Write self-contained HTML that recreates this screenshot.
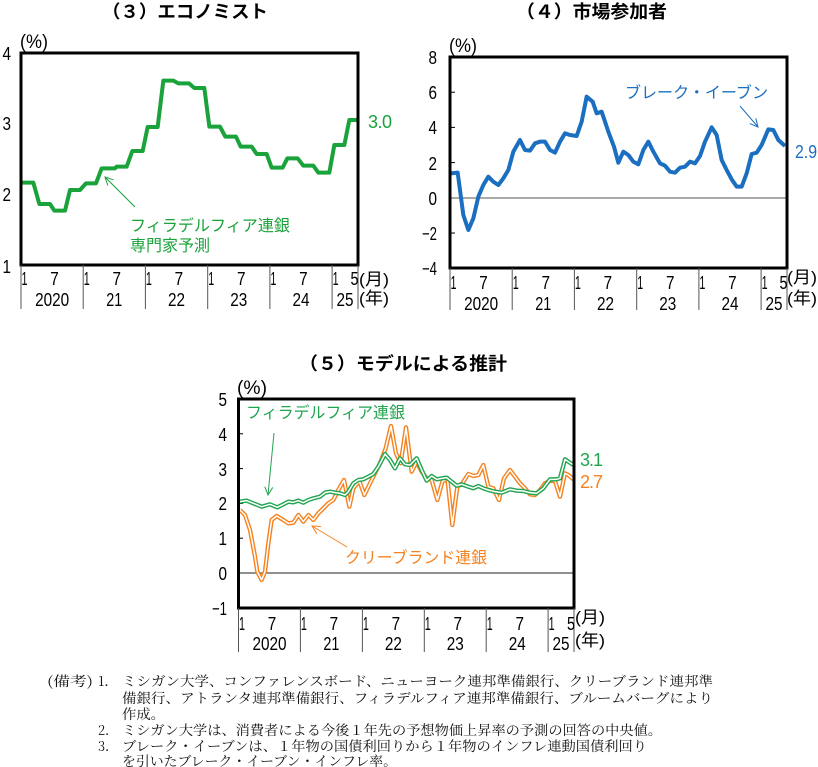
<!DOCTYPE html>
<html><head><meta charset="utf-8">
<style>
html,body{margin:0;padding:0;background:#fff;}
svg{display:block;}
.n{font-family:"Liberation Sans",sans-serif;font-size:18.5px;fill:#000;}
.jp{font-family:"Liberation Sans","Noto Sans CJK JP",sans-serif;}
.t{font-family:"Liberation Sans","Noto Sans CJK JP",sans-serif;font-size:18px;font-weight:bold;fill:#000;}
.nt{font-family:"Noto Serif CJK SC",serif;font-size:13.5px;fill:#111;}
.v{font-family:"Liberation Sans",sans-serif;font-size:18px;}
</style></head>
<body>
<svg width="818" height="767" viewBox="0 0 818 767" xmlns="http://www.w3.org/2000/svg">
<defs>
<marker id="ag" markerUnits="userSpaceOnUse" markerWidth="12" markerHeight="12" refX="0" refY="0" orient="auto" viewBox="-10 -6 12 12"><path d="M-8,-4 L0,0 L-8,4" fill="none" stroke="#1aa33a" stroke-width="1"/></marker>
<marker id="ab" markerUnits="userSpaceOnUse" markerWidth="12" markerHeight="12" refX="0" refY="0" orient="auto" viewBox="-10 -6 12 12"><path d="M-8,-4 L0,0 L-8,4" fill="none" stroke="#1a6fc0" stroke-width="1"/></marker>
<marker id="ag2" markerUnits="userSpaceOnUse" markerWidth="12" markerHeight="12" refX="0" refY="0" orient="auto" viewBox="-10 -6 12 12"><path d="M-8,-4 L0,0 L-8,4" fill="none" stroke="#22a550" stroke-width="1"/></marker>
<marker id="ao" markerUnits="userSpaceOnUse" markerWidth="12" markerHeight="12" refX="0" refY="0" orient="auto" viewBox="-10 -6 12 12"><path d="M-8,-4 L0,0 L-8,4" fill="none" stroke="#f5821f" stroke-width="1"/></marker>
</defs>
<rect width="818" height="767" fill="#fff"/>

<!-- ================= Chart 3 ================= -->
<text class="t" x="102" y="18" textLength="166" lengthAdjust="spacingAndGlyphs">（３）エコノミスト</text>
<text class="jp" x="20" y="48" font-size="19" textLength="28" lengthAdjust="spacingAndGlyphs">(%)</text>
<g class="n" text-anchor="end">
<text x="11" y="60" textLength="8.5" lengthAdjust="spacingAndGlyphs">4</text><text x="11" y="130" textLength="8.5" lengthAdjust="spacingAndGlyphs">3</text><text x="11" y="201" textLength="8.5" lengthAdjust="spacingAndGlyphs">2</text><text x="11" y="273" textLength="8.5" lengthAdjust="spacingAndGlyphs">1</text>
</g>
<g transform="translate(0,0) scale(0.33333)">
<polyline fill="none" stroke="#1aa33a" stroke-width="12" stroke-linejoin="round" points="63,548 100,548 118,612 150,612 163,632 195,632 210,570 240,570 258,550 288,550 305,505 345,505 350,500 380,500 397,453 428,453 443,381 473,381 490,242 520,242 535,250 567,250 583,264 613,264 628,380 660,380 676,410 708,410 722,440 755,440 770,462 800,462 815,503 848,503 862,475 893,475 910,497 940,497 955,518 988,518 1003,435 1033,435 1048,360 1070,360"/>
</g>
<rect x="21" y="53" width="337" height="212" fill="none" stroke="#000" stroke-width="3"/>
<line x1="135" y1="207" x2="105" y2="177" stroke="#1aa33a" stroke-width="1" marker-end="url(#ag)"/>
<text class="jp" x="130" y="231" font-size="16" fill="#1aa33a" textLength="160" lengthAdjust="spacingAndGlyphs">フィラデルフィア連銀</text>
<text class="jp" x="130" y="251" font-size="16" fill="#1aa33a" textLength="80" lengthAdjust="spacingAndGlyphs">専門家予測</text>
<text class="v" x="368" y="128" fill="#1aa33a" textLength="24" lengthAdjust="spacing">3.0</text>
<g stroke="#555" stroke-width="1">
<line x1="21" y1="265" x2="21" y2="309"/><line x1="83.2" y1="265" x2="83.2" y2="309"/><line x1="145.4" y1="265" x2="145.4" y2="309"/><line x1="207.7" y1="265" x2="207.7" y2="309"/><line x1="269.9" y1="265" x2="269.9" y2="309"/><line x1="332.1" y1="265" x2="332.1" y2="309"/><line x1="358" y1="265" x2="358" y2="309"/>
</g>
<g class="n" text-anchor="middle">
<text x="24.5" y="285" textLength="6" lengthAdjust="spacingAndGlyphs">1</text><text x="54.5" y="285" textLength="8.5" lengthAdjust="spacingAndGlyphs">7</text>
<text x="86.7" y="285" textLength="6" lengthAdjust="spacingAndGlyphs">1</text><text x="116.7" y="285" textLength="8.5" lengthAdjust="spacingAndGlyphs">7</text>
<text x="148.9" y="285" textLength="6" lengthAdjust="spacingAndGlyphs">1</text><text x="178.9" y="285" textLength="8.5" lengthAdjust="spacingAndGlyphs">7</text>
<text x="211.2" y="285" textLength="6" lengthAdjust="spacingAndGlyphs">1</text><text x="241.2" y="285" textLength="8.5" lengthAdjust="spacingAndGlyphs">7</text>
<text x="273.4" y="285" textLength="6" lengthAdjust="spacingAndGlyphs">1</text><text x="303.4" y="285" textLength="8.5" lengthAdjust="spacingAndGlyphs">7</text>
<text x="335.6" y="285" textLength="6" lengthAdjust="spacingAndGlyphs">1</text><text x="354.5" y="285" textLength="8" lengthAdjust="spacingAndGlyphs">5</text>
<text x="52.1" y="306" textLength="34" lengthAdjust="spacingAndGlyphs">2020</text><text x="114.3" y="306" textLength="16" lengthAdjust="spacingAndGlyphs">21</text><text x="176.5" y="306" textLength="17" lengthAdjust="spacingAndGlyphs">22</text><text x="238.8" y="306" textLength="17" lengthAdjust="spacingAndGlyphs">23</text><text x="301" y="306" textLength="17" lengthAdjust="spacingAndGlyphs">24</text><text x="345" y="306" textLength="17" lengthAdjust="spacingAndGlyphs">25</text>
</g>
<text class="jp" x="359" y="285" font-size="17" textLength="30" lengthAdjust="spacingAndGlyphs">(月)</text>
<text class="jp" x="359" y="304" font-size="17" textLength="30" lengthAdjust="spacingAndGlyphs">(年)</text>

<!-- ================= Chart 4 ================= -->
<text class="t" x="516" y="18" textLength="151" lengthAdjust="spacingAndGlyphs">（４）市場参加者</text>
<text class="jp" x="449" y="52" font-size="19" textLength="28" lengthAdjust="spacingAndGlyphs">(%)</text>
<g class="n" text-anchor="end">
<text x="437" y="64" textLength="8.5" lengthAdjust="spacingAndGlyphs">8</text><text x="437" y="99" textLength="8.5" lengthAdjust="spacingAndGlyphs">6</text><text x="437" y="134" textLength="8.5" lengthAdjust="spacingAndGlyphs">4</text><text x="437" y="170" textLength="8.5" lengthAdjust="spacingAndGlyphs">2</text><text x="437" y="205" textLength="8.5" lengthAdjust="spacingAndGlyphs">0</text><text x="437" y="240" textLength="15" lengthAdjust="spacingAndGlyphs">−2</text><text x="437" y="275" textLength="15" lengthAdjust="spacingAndGlyphs">−4</text>
</g>
<line x1="450" y1="198" x2="787" y2="198" stroke="#555" stroke-width="1"/>
<g stroke="#000" stroke-width="1">
<line x1="450" y1="92.2" x2="455" y2="92.2"/><line x1="450" y1="127.4" x2="455" y2="127.4"/><line x1="450" y1="162.6" x2="455" y2="162.6"/><line x1="450" y1="233" x2="455" y2="233"/>
</g>
<g transform="translate(410,0) scale(0.33333)">
<polyline fill="none" stroke="#1a6fc0" stroke-width="12" stroke-linejoin="round" points="122,520 143,518 160,645 175,690 190,655 205,590 220,555 235,530 250,545 265,555 280,535 295,510 310,455 330,420 345,450 360,452 375,430 390,425 405,425 420,450 435,458 450,425 465,400 480,405 500,408 515,365 530,290 548,305 560,340 575,335 595,395 612,440 625,488 640,455 655,465 670,485 685,493 700,450 715,425 730,455 750,490 765,497 780,515 795,518 810,503 825,500 840,485 855,490 870,468 885,425 905,382 920,405 935,480 950,510 965,538 980,560 995,560 1010,520 1025,462 1040,458 1055,435 1075,388 1090,390 1105,420 1125,438"/>
</g>
<rect x="450" y="57" width="337" height="211" fill="none" stroke="#000" stroke-width="3"/>
<text class="jp" x="625" y="98" font-size="16" fill="#1a6fc0" textLength="143" lengthAdjust="spacingAndGlyphs">ブレーク・イーブン</text>
<line x1="740" y1="106" x2="758" y2="127" stroke="#1a6fc0" stroke-width="1" marker-end="url(#ab)"/>
<text class="v" x="795" y="158" fill="#1a6fc0" textLength="22" lengthAdjust="spacingAndGlyphs">2.9</text>
<g stroke="#555" stroke-width="1">
<line x1="450" y1="268" x2="450" y2="310"/><line x1="512.2" y1="268" x2="512.2" y2="310"/><line x1="574.4" y1="268" x2="574.4" y2="310"/><line x1="636.7" y1="268" x2="636.7" y2="310"/><line x1="698.9" y1="268" x2="698.9" y2="310"/><line x1="761.1" y1="268" x2="761.1" y2="310"/><line x1="787" y1="268" x2="787" y2="310"/>
</g>
<g class="n" text-anchor="middle">
<text x="453.5" y="289" textLength="6" lengthAdjust="spacingAndGlyphs">1</text><text x="483.5" y="289" textLength="8.5" lengthAdjust="spacingAndGlyphs">7</text>
<text x="515.7" y="289" textLength="6" lengthAdjust="spacingAndGlyphs">1</text><text x="545.7" y="289" textLength="8.5" lengthAdjust="spacingAndGlyphs">7</text>
<text x="577.9" y="289" textLength="6" lengthAdjust="spacingAndGlyphs">1</text><text x="607.9" y="289" textLength="8.5" lengthAdjust="spacingAndGlyphs">7</text>
<text x="640.2" y="289" textLength="6" lengthAdjust="spacingAndGlyphs">1</text><text x="670.2" y="289" textLength="8.5" lengthAdjust="spacingAndGlyphs">7</text>
<text x="702.4" y="289" textLength="6" lengthAdjust="spacingAndGlyphs">1</text><text x="732.4" y="289" textLength="8.5" lengthAdjust="spacingAndGlyphs">7</text>
<text x="764.6" y="289" textLength="6" lengthAdjust="spacingAndGlyphs">1</text><text x="783.5" y="289" textLength="8" lengthAdjust="spacingAndGlyphs">5</text>
<text x="481.1" y="310" textLength="34" lengthAdjust="spacingAndGlyphs">2020</text><text x="543.3" y="310" textLength="16" lengthAdjust="spacingAndGlyphs">21</text><text x="605.5" y="310" textLength="17" lengthAdjust="spacingAndGlyphs">22</text><text x="667.8" y="310" textLength="17" lengthAdjust="spacingAndGlyphs">23</text><text x="730" y="310" textLength="17" lengthAdjust="spacingAndGlyphs">24</text><text x="774" y="310" textLength="17" lengthAdjust="spacingAndGlyphs">25</text>
</g>
<text class="jp" x="787" y="283" font-size="17" textLength="30" lengthAdjust="spacingAndGlyphs">(月)</text>
<text class="jp" x="787" y="304" font-size="17" textLength="30" lengthAdjust="spacingAndGlyphs">(年)</text>

<!-- ================= Chart 5 ================= -->
<text class="t" x="299" y="370" textLength="208" lengthAdjust="spacingAndGlyphs">（５）モデルによる推計</text>
<text class="jp" x="237" y="394" font-size="19" textLength="30" lengthAdjust="spacingAndGlyphs">(%)</text>
<g class="n" text-anchor="end">
<text x="227" y="406" textLength="8.5" lengthAdjust="spacingAndGlyphs">5</text><text x="227" y="441" textLength="8.5" lengthAdjust="spacingAndGlyphs">4</text><text x="227" y="476" textLength="8.5" lengthAdjust="spacingAndGlyphs">3</text><text x="227" y="510" textLength="8.5" lengthAdjust="spacingAndGlyphs">2</text><text x="227" y="545" textLength="8.5" lengthAdjust="spacingAndGlyphs">1</text><text x="227" y="580" textLength="8.5" lengthAdjust="spacingAndGlyphs">0</text><text x="227" y="615" textLength="15" lengthAdjust="spacingAndGlyphs">−1</text>
</g>
<line x1="238" y1="573" x2="574" y2="573" stroke="#222" stroke-width="1"/>
<g stroke="#000" stroke-width="1">
<line x1="238" y1="433.8" x2="243" y2="433.8"/><line x1="238" y1="468.6" x2="243" y2="468.6"/><line x1="238" y1="503.4" x2="243" y2="503.4"/><line x1="238" y1="538.2" x2="243" y2="538.2"/>
</g>
<g transform="translate(220,350) scale(0.33333)" fill="none" stroke-linejoin="round">
<polyline stroke="#f5821f" stroke-width="13" points="60,480 75,495 90,540 105,620 112,665 125,690 135,665 145,580 155,510 170,498 190,510 205,520 220,518 235,495 250,515 265,495 280,510 295,490 310,475 325,460 340,450 355,420 372,390 388,470 400,415 418,393 433,435 450,400 465,370 480,340 497,295 513,228 528,310 542,340 558,232 575,365 590,335 605,365 620,385 635,390 652,450 667,395 682,385 697,525 712,410 727,400 745,372 760,378 775,375 790,345 805,410 820,415 837,450 852,385 870,360 885,380 900,400 915,415 930,433 945,435 960,420 975,400 990,392 1005,393 1020,440 1035,370 1045,375 1060,388"/>
<polyline stroke="#fff" stroke-width="4.5" points="60,480 75,495 90,540 105,620 112,665 125,690 135,665 145,580 155,510 170,498 190,510 205,520 220,518 235,495 250,515 265,495 280,510 295,490 310,475 325,460 340,450 355,420 372,390 388,470 400,415 418,393 433,435 450,400 465,370 480,340 497,295 513,228 528,310 542,340 558,232 575,365 590,335 605,365 620,385 635,390 652,450 667,395 682,385 697,525 712,410 727,400 745,372 760,378 775,375 790,345 805,410 820,415 837,450 852,385 870,360 885,380 900,400 915,415 930,433 945,435 960,420 975,400 990,392 1005,393 1020,440 1035,370 1045,375 1060,388"/>
<polyline stroke="#22a550" stroke-width="13" points="60,455 80,452 100,460 125,470 150,463 172,472 190,463 205,455 220,457 235,452 250,458 265,450 280,445 300,440 315,428 330,425 345,428 360,430 375,435 385,425 400,400 415,390 430,388 445,380 460,372 475,350 495,312 510,330 525,355 540,325 555,343 570,345 590,325 605,360 620,392 635,378 650,388 665,385 680,383 695,395 710,407 725,403 745,410 760,415 775,408 790,415 805,420 825,425 845,428 870,418 890,422 910,423 930,428 950,430 970,415 990,388 1010,388 1020,385 1035,328 1060,345"/>
<polyline stroke="#fff" stroke-width="4.5" points="60,455 80,452 100,460 125,470 150,463 172,472 190,463 205,455 220,457 235,452 250,458 265,450 280,445 300,440 315,428 330,425 345,428 360,430 375,435 385,425 400,400 415,390 430,388 445,380 460,372 475,350 495,312 510,330 525,355 540,325 555,343 570,345 590,325 605,360 620,392 635,378 650,388 665,385 680,383 695,395 710,407 725,403 745,410 760,415 775,408 790,415 805,420 825,425 845,428 870,418 890,422 910,423 930,428 950,430 970,415 990,388 1010,388 1020,385 1035,328 1060,345"/>
</g>
<rect x="238.5" y="399" width="335.5" height="209" fill="none" stroke="#000" stroke-width="3"/>
<text class="jp" x="246" y="418" font-size="16" fill="#22a550" textLength="159" lengthAdjust="spacingAndGlyphs">フィラデルフィア連銀</text>
<line x1="274" y1="433" x2="268" y2="495" stroke="#22a550" stroke-width="1" marker-end="url(#ag2)"/>
<text class="jp" x="345" y="563" font-size="16" fill="#f5821f" textLength="142" lengthAdjust="spacingAndGlyphs">クリーブランド連銀</text>
<line x1="347" y1="547" x2="312" y2="526" stroke="#f5821f" stroke-width="1" marker-end="url(#ao)"/>
<text class="v" x="580" y="466" fill="#22a550" textLength="23" lengthAdjust="spacing">3.1</text>
<text class="v" x="580" y="488" fill="#f5821f" textLength="23" lengthAdjust="spacing">2.7</text>
<g stroke="#555" stroke-width="1">
<line x1="238.5" y1="608" x2="238.5" y2="652"/><line x1="300.4" y1="608" x2="300.4" y2="652"/><line x1="362.4" y1="608" x2="362.4" y2="652"/><line x1="424.3" y1="608" x2="424.3" y2="652"/><line x1="486.2" y1="608" x2="486.2" y2="652"/><line x1="548.1" y1="608" x2="548.1" y2="652"/><line x1="574" y1="608" x2="574" y2="652"/>
</g>
<g class="n" text-anchor="middle">
<text x="242" y="630" textLength="6" lengthAdjust="spacingAndGlyphs">1</text><text x="272" y="630" textLength="8.5" lengthAdjust="spacingAndGlyphs">7</text>
<text x="303.9" y="630" textLength="6" lengthAdjust="spacingAndGlyphs">1</text><text x="333.9" y="630" textLength="8.5" lengthAdjust="spacingAndGlyphs">7</text>
<text x="365.9" y="630" textLength="6" lengthAdjust="spacingAndGlyphs">1</text><text x="395.9" y="630" textLength="8.5" lengthAdjust="spacingAndGlyphs">7</text>
<text x="427.8" y="630" textLength="6" lengthAdjust="spacingAndGlyphs">1</text><text x="457.8" y="630" textLength="8.5" lengthAdjust="spacingAndGlyphs">7</text>
<text x="489.7" y="630" textLength="6" lengthAdjust="spacingAndGlyphs">1</text><text x="519.7" y="630" textLength="8.5" lengthAdjust="spacingAndGlyphs">7</text>
<text x="551.6" y="630" textLength="6" lengthAdjust="spacingAndGlyphs">1</text><text x="571" y="630" textLength="8" lengthAdjust="spacingAndGlyphs">5</text>
<text x="269.5" y="650" textLength="34" lengthAdjust="spacingAndGlyphs">2020</text><text x="331.4" y="650" textLength="16" lengthAdjust="spacingAndGlyphs">21</text><text x="393.4" y="650" textLength="17" lengthAdjust="spacingAndGlyphs">22</text><text x="455.3" y="650" textLength="17" lengthAdjust="spacingAndGlyphs">23</text><text x="517.2" y="650" textLength="17" lengthAdjust="spacingAndGlyphs">24</text><text x="561" y="650" textLength="17" lengthAdjust="spacingAndGlyphs">25</text>
</g>
<text class="jp" x="575" y="623" font-size="17" textLength="30" lengthAdjust="spacingAndGlyphs">(月)</text>
<text class="jp" x="575" y="646" font-size="17" textLength="30" lengthAdjust="spacingAndGlyphs">(年)</text>

<!-- ================= Notes ================= -->
<text class="nt" x="47" y="686" textLength="46" lengthAdjust="spacingAndGlyphs">(備考)</text>
<text class="nt" x="98" y="686" textLength="20" lengthAdjust="spacingAndGlyphs">1．</text>
<text class="nt" x="122" y="686" textLength="591" lengthAdjust="spacingAndGlyphs">ミシガン大学、コンファレンスボード、ニューヨーク連邦準備銀行、クリーブランド連邦準</text>
<text class="nt" x="122" y="703" textLength="591" lengthAdjust="spacingAndGlyphs">備銀行、アトランタ連邦準備銀行、フィラデルフィア連邦準備銀行、ブルームバーグにより</text>
<text class="nt" x="122" y="719" textLength="43" lengthAdjust="spacingAndGlyphs">作成。</text>
<text class="nt" x="98" y="735" textLength="20" lengthAdjust="spacingAndGlyphs">2．</text>
<text class="nt" x="122" y="735" textLength="540" lengthAdjust="spacingAndGlyphs">ミシガン大学は、消費者による今後１年先の予想物価上昇率の予測の回答の中央値。</text>
<text class="nt" x="98" y="751" textLength="20" lengthAdjust="spacingAndGlyphs">3．</text>
<text class="nt" x="122" y="751" textLength="525" lengthAdjust="spacingAndGlyphs">ブレーク・イーブンは、１年物の国債利回りから１年物のインフレ連動国債利回り</text>
<text class="nt" x="122" y="766" textLength="275" lengthAdjust="spacingAndGlyphs">を引いたブレーク・イーブン・インフレ率。</text>
</svg>
</body></html>
